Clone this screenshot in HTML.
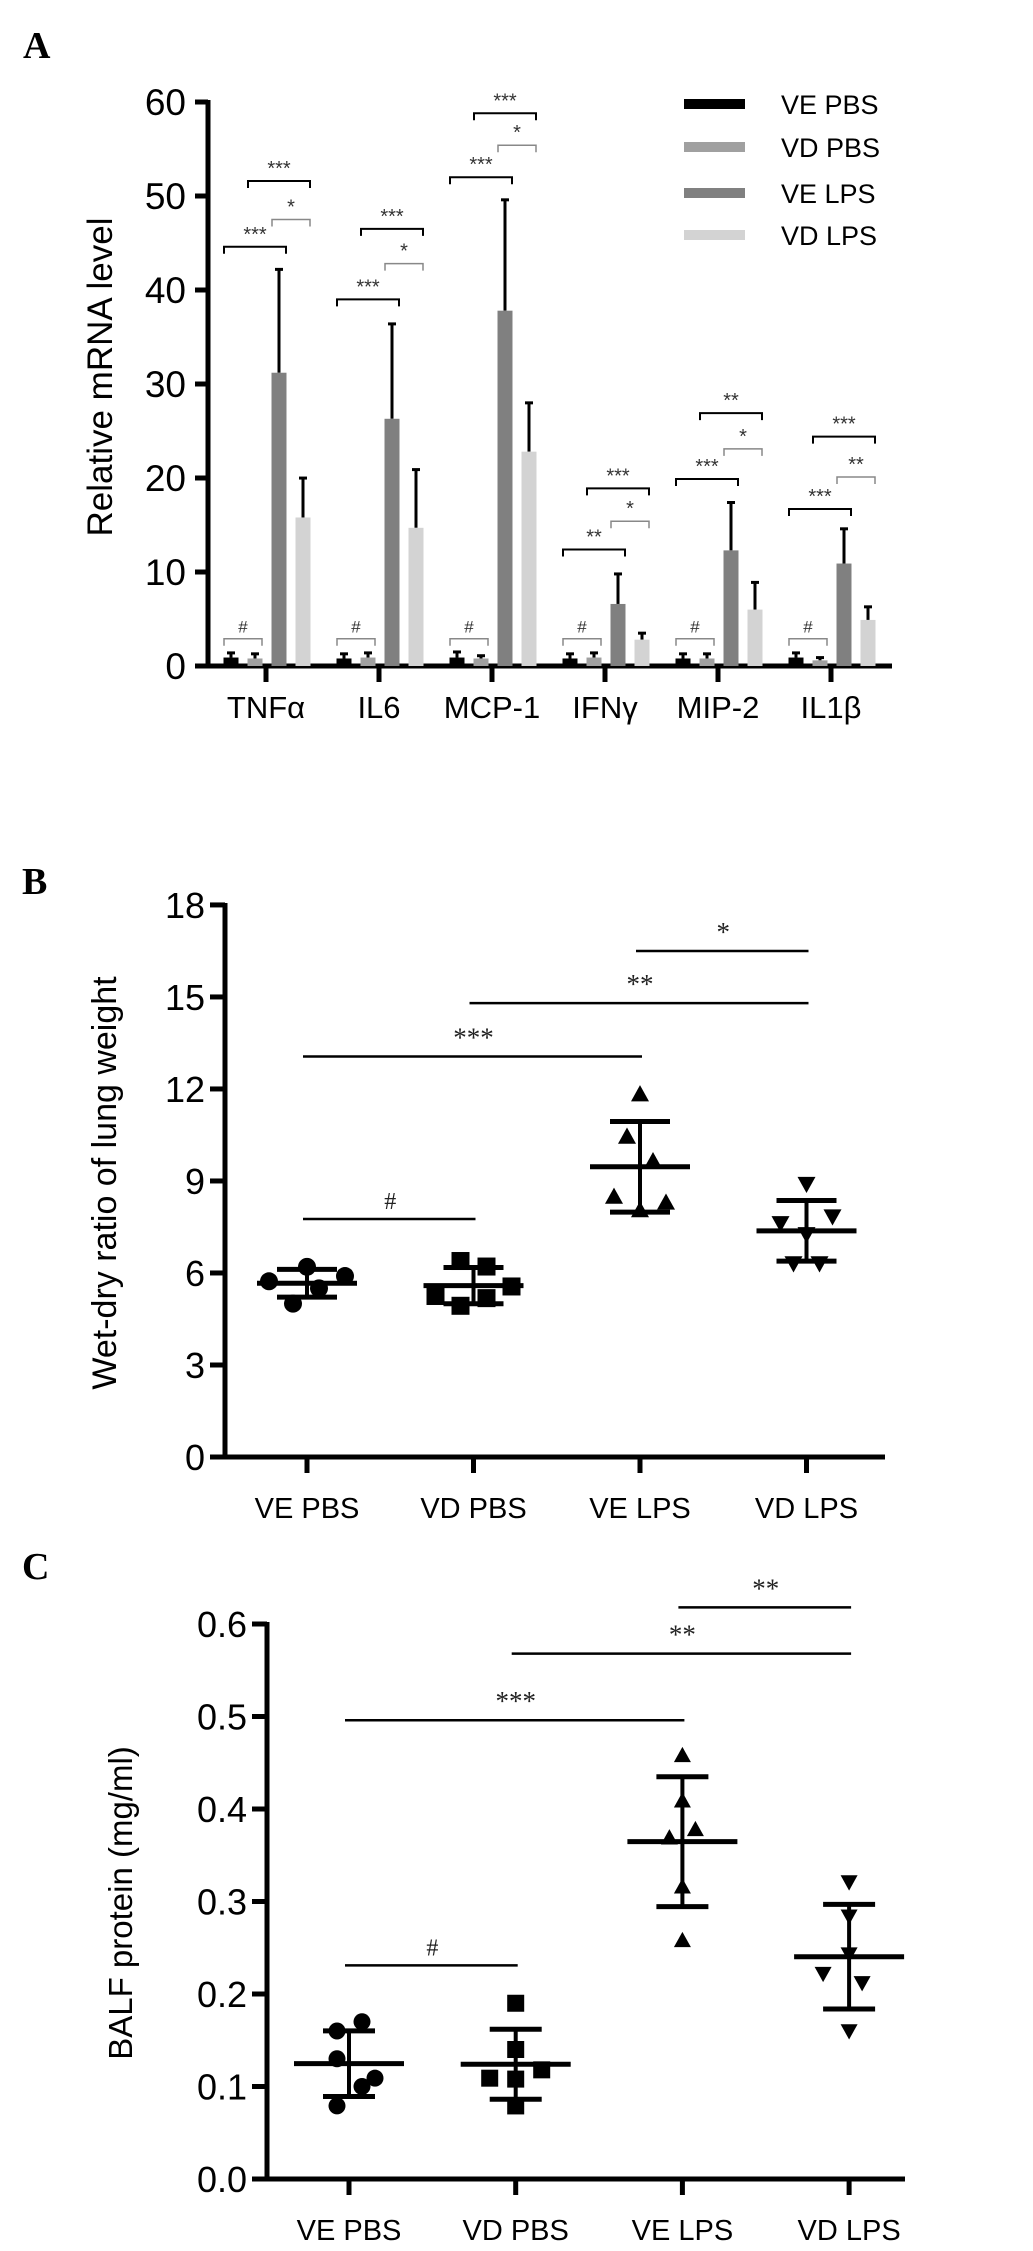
<!DOCTYPE html>
<html><head><meta charset="utf-8"><style>
html,body{margin:0;padding:0;background:#fff;}
svg{display:block;font-family:"Liberation Sans",Arial,sans-serif;}
</style></head><body>
<svg id="fig" width="1033" height="2251" viewBox="0 0 1033 2251" xmlns="http://www.w3.org/2000/svg"></svg>
<script>
// ---------- Panel A data ----------
const genes = ["TNFα","IL6","MCP-1","IFNγ","MIP-2","IL1β"];
const groupNames = ["VE PBS","VD PBS","VE LPS","VD LPS"];
const veLpsMean = [31.2, 26.3, 37.8, 6.6, 12.3, 10.9];
const veLpsErr  = [42.3, 36.5, 49.7, 9.9, 17.5, 14.7];
const vdLpsMean = [15.8, 14.7, 22.8, 2.8, 6.0, 4.9];
const vdLpsErr  = [20.1, 21.0, 28.1, 3.6, 9.0, 6.4];
const vePbsMean = [0.9, 0.8, 0.9, 0.8, 0.8, 0.9];
const vePbsErr  = [1.5, 1.4, 1.6, 1.4, 1.4, 1.5];
const vdPbsMean = [0.8, 0.9, 0.8, 0.9, 0.8, 0.6];
const vdPbsErr  = [1.4, 1.5, 1.2, 1.5, 1.4, 1.0];
const sigHash   = [2.9, 2.9, 2.9, 2.9, 2.9, 2.9];
const sigA1     = [44.6, 39.0, 52.0, 12.4, 19.9, 16.7];   // VE PBS - VE LPS
const sigA1Lab  = ["***","***","***","**","***","***"];
const sigA2     = [47.5, 42.8, 55.4, 15.4, 23.1, 20.1];   // VE LPS - VD LPS
const sigA2Lab  = ["*","*","*","*","*","**"];
const sigA3     = [51.6, 46.5, 58.8, 18.9, 26.9, 24.4];   // VD PBS - VD LPS
const sigA3Lab  = ["***","***","***","***","**","***"];
const ticksA = [0,10,20,30,40,50,60];

// ---------- Panel B data ----------
const catsB = ["VE PBS","VD PBS","VE LPS","VD LPS"];
const bVePbs = [5.73, 6.2, 5.0, 5.5, 5.9];
const bVdPbs = [5.25, 6.39, 4.93, 6.21, 5.18, 5.56];
const bVeLps = [11.83, 10.45, 9.65, 8.49, 8.3, 8.05];
const bVdLps = [8.9, 7.62, 7.84, 7.26, 6.31, 6.31];
const bJitter = [[-38,0,-14,12,38],[-38,-13,-13,13,13,38],[0,-13,13,-26,26,0],[0,-26,26,0,-13,13]];
const ticksB = [0,3,6,9,12,15,18];
const sigBFrom = [0,0,1,2];
const sigBTo   = [1,2,3,3];
const sigBVal  = [7.76, 13.06, 14.8, 16.5];
const sigBLab  = ["#","***","**","*"];

// ---------- Panel C data ----------
const cVePbs = [0.16, 0.17, 0.13, 0.10, 0.109, 0.079];
const cVdPbs = [0.19, 0.14, 0.109, 0.118, 0.108, 0.079];
const cVeLps = [0.458, 0.409, 0.378, 0.369, 0.316, 0.258];
const cVdLps = [0.321, 0.284, 0.243, 0.222, 0.212, 0.16];
const cJitter = [[-12,13,-12,13,26,-12],[0,0,-26,26,0,0],[0,0,13,-13,0,0],[0,0,0,-26,13,0]];
const ticksC = [0.0,0.1,0.2,0.3,0.4,0.5,0.6];
const sigCFrom = [0,0,1,2];
const sigCTo   = [1,2,3,3];
const sigCVal  = [0.231, 0.496, 0.568, 0.618];
const sigCLab  = ["#","***","**","**"];

const NS = "http://www.w3.org/2000/svg";
const svg = document.getElementById("fig");
function mk(tag, attrs, parent, text){
  const e = document.createElementNS(NS, tag);
  for (const k in attrs) e.setAttribute(k, attrs[k]);
  if (text !== undefined) e.textContent = text;
  (parent||svg).appendChild(e);
  return e;
}
function grp(name, parent){
  const g = document.createElementNS(NS,"g");
  
  
  (parent||svg).appendChild(g);
  return g;
}

// ================= PANEL A =================
(function(){
  const g = grp("panel-a");
  const y = v => 666 - v*9.4;
  const x = i => 266 + i*113;
  const offs = [-35,-11,13,37];
  const cols = ["#000","#a0a0a0","#808080","#d3d3d3"];
  let t = mk("text",{x:23,y:58,"font-family":"Liberation Serif,serif","font-weight":"bold","font-size":38},g,"A");
   
  let ax = mk("line",{x1:208,y1:y(60)-2,x2:208,y2:668,stroke:"#000","stroke-width":5},g);
   
  ax = mk("line",{x1:195,y1:666,x2:892,y2:666,stroke:"#000","stroke-width":5},g);
   
  ticksA.forEach(v=>{
    mk("line",{x1:195,y1:y(v),x2:208,y2:y(v),stroke:"#000","stroke-width":5},g);
    const tl = mk("text",{x:186,y:y(v)+13,"text-anchor":"end","font-size":37},g,String(v));
     
  });
  const yt = mk("text",{x:0,y:0,transform:"translate(112,377) rotate(-90)","text-anchor":"middle","font-size":35},g,"Relative mRNA level");
   
  const means = [vePbsMean, vdPbsMean, veLpsMean, vdLpsMean];
  const errs = [vePbsErr, vdPbsErr, veLpsErr, vdLpsErr];
  genes.forEach((gn,i)=>{
    mk("line",{x1:x(i),y1:666,x2:x(i),y2:682,stroke:"#000","stroke-width":5},g);
    const xl = mk("text",{x:x(i),y:718,"text-anchor":"middle","font-size":31},g,gn);
     
    for(let s=0;s<4;s++){
      const cx = x(i)+offs[s];
      const m = means[s][i], e = errs[s][i];
      mk("line",{x1:cx,y1:y(m),x2:cx,y2:y(e),stroke:"#000","stroke-width":3},g);
      mk("line",{x1:cx-4,y1:y(e)+1,x2:cx+4,y2:y(e)+1,stroke:"#000","stroke-width":3},g);
      const b = mk("rect",{x:cx-7.5,y:y(m),width:15,height:666-y(m),fill:cols[s]},g);
      
      
    }
    function br(a,bq,v,lab,gray){
      const x1=x(i)+offs[a]-7, x2=x(i)+offs[bq]+7, yy=y(v);
      mk("path",{d:`M${x1},${yy+7} V${yy} H${x2} V${yy+7}`,fill:"none",stroke:gray?"#888":"#000","stroke-width":gray?1.5:2},g);
      mk("text",{x:(x1+x2)/2,y:yy-6,"text-anchor":"middle","font-size":lab==="#"?17:20,fill:"#333"},g,lab);
    }
    br(0,1,sigHash[i],"#",true);
    br(0,2,sigA1[i],sigA1Lab[i],false);
    br(2,3,sigA2[i],sigA2Lab[i],true);
    br(1,3,sigA3[i],sigA3Lab[i],false);
  });
  const lg = grp("legend-a", g);
  const ly = [104,147,193,235];
  groupNames.forEach((n,s)=>{
    const r = mk("rect",{x:684,y:ly[s]-5,width:61,height:10,fill:cols[s]},lg);
     
    const tt = mk("text",{x:781,y:ly[s]+10,"font-size":27},lg,n);
     
  });
})();

// ================= Scatter panel helper =================
function scatterPanel(opt){
  const g = grp(opt.name);
  const y = v => opt.y0 - (v-opt.ticks[0])*opt.ppu;
  const x = i => opt.cx0 + i*opt.dx;
  const t = mk("text",{x:opt.lx,y:opt.ly,"font-family":"Liberation Serif,serif","font-weight":"bold","font-size":38},g,opt.letter);
   
  const top = y(opt.ticks[opt.ticks.length-1]);
  let a = mk("line",{x1:opt.ax,y1:top-2,x2:opt.ax,y2:opt.y0+2,stroke:"#000","stroke-width":5},g);
   
  a = mk("line",{x1:opt.ax-15,y1:opt.y0,x2:opt.xend,y2:opt.y0,stroke:"#000","stroke-width":5},g);
   
  opt.ticks.forEach(v=>{
    mk("line",{x1:opt.ax-15,y1:y(v),x2:opt.ax,y2:y(v),stroke:"#000","stroke-width":5},g);
    const tl = mk("text",{x:opt.ax-20,y:y(v)+13,"text-anchor":"end","font-size":opt.tfs},g,opt.fmt(v));
     
  });
  const yt = mk("text",{x:0,y:0,transform:`translate(${opt.tx},${opt.ty}) rotate(-90)`,"text-anchor":"middle","font-size":opt.tifs},g,opt.title);
   
  opt.cats.forEach((c,i)=>{
    mk("line",{x1:x(i),y1:opt.y0,x2:x(i),y2:opt.y0+16,stroke:"#000","stroke-width":5},g);
    const xl = mk("text",{x:x(i),y:opt.y0+61,"text-anchor":"middle","font-size":29},g,c);
     
    const d = opt.series[i];
    const mean = d.reduce((s,v)=>s+v,0)/d.length;
    const sd = Math.sqrt(d.reduce((s,v)=>s+(v-mean)*(v-mean),0)/(d.length-1));
    const sg = grp('group-'+c.toLowerCase().replace(' ','-'), g);
    d.forEach((v,k)=>{
      const px = x(i)+opt.jit[i][k], py = y(v), r = opt.r;
      let m;
      if(i===0) m = mk("circle",{cx:px,cy:py,r:r,fill:"#000"},sg);
      else if(i===1) m = mk("rect",{x:px-r,y:py-r,width:2*r,height:2*r,fill:"#000"},sg);
      else if(i===2) m = mk("path",{d:`M${px},${py-r} L${px+r},${py+r*0.8} L${px-r},${py+r*0.8}Z`,fill:"#000"},sg);
      else m = mk("path",{d:`M${px},${py+r} L${px+r},${py-r*0.8} L${px-r},${py-r*0.8}Z`,fill:"#000"},sg);
       
    });
    mk("line",{x1:x(i)-opt.mw,y1:y(mean),x2:x(i)+opt.mw,y2:y(mean),stroke:"#000","stroke-width":5},sg);
    mk("line",{x1:x(i),y1:y(mean+sd),x2:x(i),y2:y(mean-sd),stroke:"#000","stroke-width":4},sg);
    mk("line",{x1:x(i)-opt.sw,y1:y(mean+sd),x2:x(i)+opt.sw,y2:y(mean+sd),stroke:"#000","stroke-width":5},sg);
    mk("line",{x1:x(i)-opt.sw,y1:y(mean-sd),x2:x(i)+opt.sw,y2:y(mean-sd),stroke:"#000","stroke-width":5},sg);
  });
  opt.sigFrom.forEach((f,k)=>{
    const yy = y(opt.sigVal[k]);
    const l = mk("line",{x1:x(f)-4,y1:yy,x2:x(opt.sigTo[k])+2,y2:yy,stroke:"#000","stroke-width":2.5},g);
     
    mk("text",{x:(x(f)+x(opt.sigTo[k]))/2,y:yy-10,"text-anchor":"middle","font-size":opt.sigLab[k]==="#"?24:27,"font-family":"Liberation Serif,serif",fill:"#222"},g,opt.sigLab[k]);
  });
}

scatterPanel({name:"panel-b",letter:"B",lx:22,ly:894,y0:1457,ppu:30.67,ticks:ticksB,ax:225,xend:885,
  cx0:307,dx:166.5,cats:catsB,series:[bVePbs,bVdPbs,bVeLps,bVdLps],jit:bJitter,r:9,mw:50,sw:30,
  tfs:36,fmt:v=>String(v),tx:116,ty:1183,title:"Wet-dry ratio of lung weight",tifs:34,
  sigFrom:sigBFrom,sigTo:sigBTo,sigVal:sigBVal,sigLab:sigBLab});
scatterPanel({name:"panel-c",letter:"C",lx:22,ly:1579,y0:2179,ppu:925,ticks:ticksC,ax:267,xend:905,
  cx0:349,dx:166.7,cats:catsB,series:[cVePbs,cVdPbs,cVeLps,cVdLps],jit:cJitter,r:8.5,mw:55,sw:26,
  tfs:36,fmt:v=>v.toFixed(1),tx:132,ty:1903,title:"BALF protein (mg/ml)",tifs:33,
  sigFrom:sigCFrom,sigTo:sigCTo,sigVal:sigCVal,sigLab:sigCLab});
</script>
</body></html>
